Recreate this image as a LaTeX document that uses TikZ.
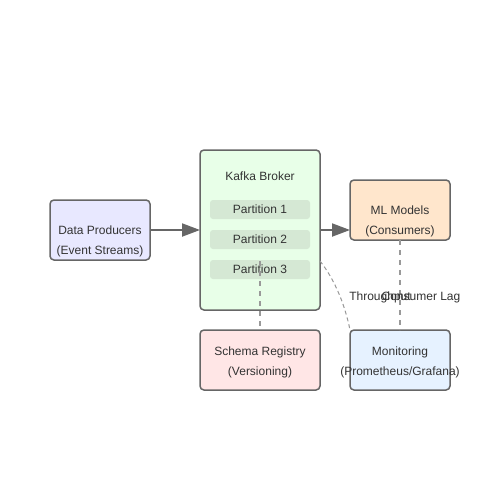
\documentclass[tikz,border=0pt]{standalone}
\usepackage{fontspec}
\setmainfont{Liberation Sans}
\usetikzlibrary{arrows.meta}
\definecolor{edge}{HTML}{666666}
\definecolor{txt}{HTML}{333333}
\definecolor{dash}{HTML}{999999}
\definecolor{prodfill}{RGB}{232,232,255}
\definecolor{brokfill}{RGB}{232,255,232}
\definecolor{partfill}{RGB}{213,232,212}
\definecolor{mlfill}{RGB}{255,230,204}
\definecolor{schfill}{RGB}{255,230,230}
\definecolor{monfill}{RGB}{230,242,255}
\begin{document}
\begin{tikzpicture}[x=1pt,y=-1pt,
  box/.style={draw=edge,line width=1.5pt,rounded corners=4pt,inner sep=0pt},
  lbl/.style={text=txt,font=\fontsize{12}{14}\selectfont,inner sep=0pt,anchor=base},
  part/.style={fill=partfill,rounded corners=3pt},
  flow/.style={draw=edge,line width=2pt,-{Triangle[length=18pt,width=13pt]}},
  dep/.style={draw=dash,line width=1.5pt,dash pattern=on 5pt off 5pt}]
\useasboundingbox (0,0) rectangle (500,500);
\fill[white] (0,0) rectangle (500,500);
% boxes
\draw[box,fill=prodfill] (50,200) rectangle (150,260);
\coordinate (prodE) at (150,230);
\node[lbl] (prod1) at (100,234) {Data Producers};
\node[lbl] (prod2) at (100,254) {(Event Streams)};
\draw[box,fill=brokfill] (200,150) rectangle (320,310);
\coordinate (brokW) at (200,230);
\coordinate (brokE) at (320,230);
\node[lbl] (brok) at (260,180) {Kafka Broker};
\fill[part] (210,200) rectangle (310,219);
\fill[part] (210,230) rectangle (310,249);
\fill[part] (210,260) rectangle (310,279);
\node[lbl] (p1) at (260,213) {Partition 1};
\node[lbl] (p2) at (260,243) {Partition 2};
\node[lbl] (p3) at (260,273) {Partition 3};
\draw[box,fill=mlfill] (350,180) rectangle (450,240);
\coordinate (mlW) at (350,230);
\coordinate (mlS) at (400,240);
\node[lbl] (ml1) at (400,214) {ML Models};
\node[lbl] (ml2) at (400,234) {(Consumers)};
\draw[box,fill=schfill] (200,330) rectangle (320,390);
\coordinate (schN) at (260,330);
\node[lbl] (sch1) at (260,355) {Schema Registry};
\node[lbl] (sch2) at (260,375) {(Versioning)};
\draw[box,fill=monfill] (350,330) rectangle (450,390);
\coordinate (monN) at (400,330);
\coordinate (monNW) at (350,330);
\node[lbl] (mon1) at (400,355) {Monitoring};
\node[lbl] (mon2) at (400,375) {(Prometheus/Grafana)};
% connectors
\coordinate (brokP3) at (260,261);
\coordinate (brokSE) at (320,261);
\draw[flow] (prodE) -- (brokW);
\draw[flow] (brokE) -- (mlW);
\draw[dep] (brokP3) -- (schN);
\draw[dep] (mlS) -- (monN);
\draw[draw=dash,line width=1pt,dash pattern=on 4pt off 3pt] (brokSE) .. controls (335,280) and (345,305) .. (monNW);
\node[lbl] (thr) at (380,300) {Throughput};
\node[lbl] (lag) at (421,300) {Consumer Lag};
\end{tikzpicture}
\end{document}
